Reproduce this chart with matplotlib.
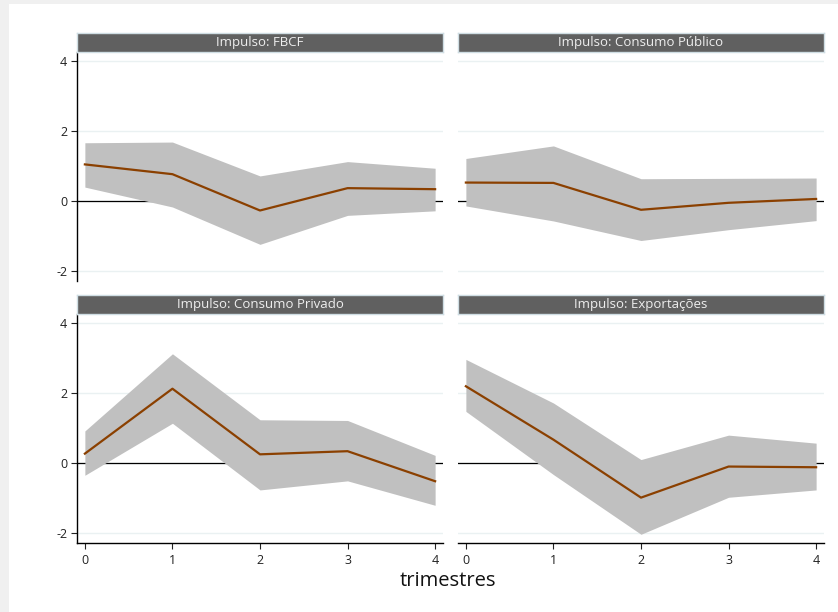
import matplotlib
matplotlib.use("Agg")
import matplotlib.pyplot as plt
from matplotlib.patches import Rectangle

plt.rcParams["font.family"] = ["Open Sans", "DejaVu Sans"]
plt.rcParams["axes.unicode_minus"] = False

steps = [0, 1, 2, 3, 4]
panel_titles = [
    "Impulso: FBCF",
    "Impulso: Consumo Público",
    "Impulso: Consumo Privado",
    "Impulso: Exportações",
]

irf_fbcf = [1.04, 0.76, -0.28, 0.36, 0.33]
upper_fbcf = [1.66, 1.68, 0.71, 1.12, 0.93]
lower_fbcf = [0.39, -0.18, -1.25, -0.42, -0.29]

irf_pub = [0.52, 0.51, -0.26, -0.06, 0.05]
upper_pub = [1.21, 1.57, 0.63, 0.64, 0.65]
lower_pub = [-0.15, -0.58, -1.14, -0.83, -0.57]

irf_priv = [0.26, 2.12, 0.24, 0.33, -0.53]
upper_priv = [0.91, 3.12, 1.23, 1.21, 0.21]
lower_priv = [-0.36, 1.13, -0.78, -0.52, -1.22]

irf_exp = [2.19, 0.66, -1.00, -0.11, -0.13]
upper_exp = [2.96, 1.71, 0.09, 0.79, 0.56]
lower_exp = [1.47, -0.34, -2.05, -0.99, -0.78]

y_ticks = [-2, 0, 2, 4]

W, H = 838, 612
fig = plt.figure(figsize=(W / 100, H / 100), dpi=100)
fig.patch.set_facecolor("#f0f0f0")
fig.patches.append(Rectangle((9 / W, 0), 1 - 9 / W, 1 - 4 / H, transform=fig.transFigure,
                             facecolor="white", edgecolor="none", zorder=-1))


def px_box(x0, y0, x1, y1):
    return [x0 / W, 1 - y1 / H, (x1 - x0) / W, (y1 - y0) / H]


panels = [
    (irf_fbcf, upper_fbcf, lower_fbcf, 77, 52, 281, True, False),
    (irf_pub, upper_pub, lower_pub, 458, 52, 281, False, False),
    (irf_priv, upper_priv, lower_priv, 77, 314, 543, True, True),
    (irf_exp, upper_exp, lower_exp, 458, 314, 543, False, True),
]

for (irf, up, lo, x0, y0, y1, show_y, show_x), title in zip(panels, panel_titles):
    ax = fig.add_axes(px_box(x0, y0, x0 + 366, y1))
    ax.set_facecolor("white")
    ax.set_xlim(-0.09, 4.09)
    ax.set_ylim(-2.3, 4.26)
    for yt in y_ticks:
        ax.axhline(yt, color="#eaf1f2", lw=1.0, zorder=0)
    ax.axhline(0, color="black", lw=0.9, zorder=1)
    ax.fill_between(steps, lo, up, color="#c0c0c0", lw=0, zorder=2)
    ax.plot(steps, irf, color="#8b4000", lw=1.6, zorder=3)

    for side in ["top", "right"]:
        ax.spines[side].set_visible(False)
    ax.spines["left"].set_visible(show_y)
    ax.spines["bottom"].set_visible(show_x)
    ax.spines["left"].set_linewidth(1.0)
    ax.spines["bottom"].set_linewidth(1.0)

    ax.set_yticks(y_ticks)
    ax.set_xticks(steps)
    ax.tick_params(axis="y", left=show_y, labelleft=show_y, length=4, width=0.8,
                   labelsize=9, colors="#222222", pad=3)
    ax.tick_params(axis="x", bottom=show_x, labelbottom=show_x, length=4, width=0.8,
                   labelsize=9, colors="#222222", pad=4)

    hax = fig.add_axes(px_box(x0, y0 - 19, x0 + 366, y0))
    hax.set_facecolor("#606060")
    hax.set_xticks([])
    hax.set_yticks([])
    for sp in hax.spines.values():
        sp.set_color("#cfdde3")
        sp.set_linewidth(1.0)
    hax.text(0.5, 0.5, title, ha="center", va="center", color="#eeeeee",
             fontsize=9.5, transform=hax.transAxes)

fig.text(448 / W, 1 - 581 / H, "trimestres", ha="center", va="center",
         fontsize=14.5, color="#111111")

fig.savefig("out.png", dpi=100, facecolor=fig.get_facecolor())
